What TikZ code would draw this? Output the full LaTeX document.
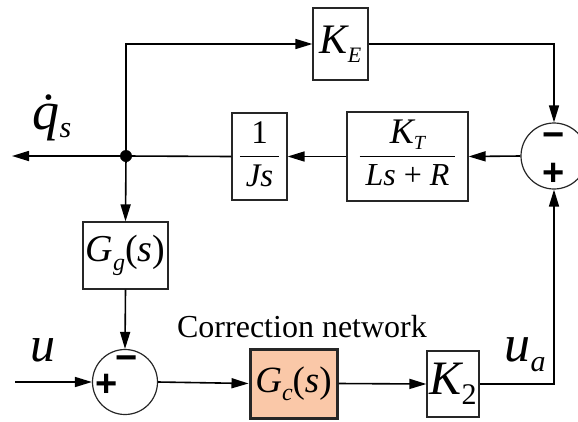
\documentclass[tikz,border=0pt]{standalone}
\usepackage{fontspec}
\setmainfont{Liberation Serif}
\newfontfamily\signfont{Liberation Sans}
\usetikzlibrary{arrows.meta}
\definecolor{corrfill}{RGB}{250,200,168}
% lowered italic subscript: size, drop, text
\newcommand{\sbs}[3]{\raisebox{-#2}{\fontsize{#1}{#1}\selectfont\itshape #3}}

\begin{document}
\begin{tikzpicture}[
  x=1pt, y=-1pt,
  block/.style={rectangle, draw=black!85, line width=1.2pt, inner sep=0pt, align=center},
  sumnode/.style={circle, draw=black!85, line width=1.2pt, minimum size=66pt, inner sep=0pt},
  sign/.style={inner sep=0pt, font=\signfont\bfseries\fontsize{38}{38}\selectfont},
  lbl/.style={inner sep=0pt},
  arr/.style={-{Triangle[length=17pt, width=10pt]}, line width=1.6pt},
  line/.style={line width=1.6pt}
]
\useasboundingbox (0,0) rectangle (578,421);

% forward path
\node[block, minimum width=55pt, minimum height=72pt] (ke) at (340.5,44)
  {\fontsize{42}{42}\selectfont\itshape K\sbs{22}{9pt}{E}};
\node[block, minimum width=55pt, minimum height=87pt] (int) at (259.5,156.5)
  {\fontsize{33}{33}\selectfont\renewcommand{\arraystretch}{1.3}%
   \begin{tabular}{c}1\\\hline\itshape Js\end{tabular}};
\node[block, minimum width=121pt, minimum height=89pt] (motor) at (407.5,156.5)
  {\fontsize{32}{32}\selectfont\renewcommand{\arraystretch}{1.3}%
   \begin{tabular}{c}{\fontsize{36}{36}\selectfont\itshape K}\sbs{20}{6pt}{T}\\\hline\itshape Ls\upshape\ +\ \itshape R\end{tabular}};
\node[sumnode] (sumr) at (554,156) {};
\node[sign] at (554,140) {−};
\node[sign] at (554,174) {+};
\coordinate (junc) at (126,156);
\coordinate (outq) at (12,156);

% feedback and correction
\node[block, minimum width=85pt, minimum height=67pt] (gg) at (125.5,255.5)
  {\fontsize{38}{38}\selectfont{\itshape G}\sbs{24}{9pt}{g}(\textit{s})};
\node[sumnode, minimum size=65pt] (suml) at (125,382) {};
\node[sign] at (107,385) {+};
\node[sign] at (127,363) {−};
\coordinate (uin) at (15,382);
\node[block, fill=corrfill, line width=3pt, minimum width=87pt, minimum height=69pt] (gc) at (293.5,383.5)
  {\fontsize{37}{37}\selectfont{\itshape G}\sbs{24}{8pt}{c}(\textit{s})};
\node[block, minimum width=52pt, minimum height=66pt] (k2) at (453,384)
  {\fontsize{48}{48}\selectfont\itshape K\sbs{30}{10pt}{\upshape 2}};

% labels
\node[lbl] (qs) at (52,118) {\fontsize{54}{54}\selectfont\itshape \.q\sbs{30}{8pt}{s}};
\node[lbl] (ulbl) at (43,350) {\fontsize{50}{50}\selectfont\itshape u};
\node[lbl] (ualbl) at (525,355) {\fontsize{52}{52}\selectfont\itshape u\sbs{30}{10pt}{a}};
\node[lbl] (corr) at (302,327) {\fontsize{32}{32}\selectfont Correction network};

% connectors
\draw[arr] (junc) |- (ke.west);
\draw[arr] (ke.east) -| (sumr.north);
\draw[arr] (sumr.west) -- (motor.east);
\draw[arr] (motor.west) -- (int.east);
\draw[line] (int.west) -- (junc);
\draw[arr] (junc) -- (outq);
\draw[arr] (junc) -- (gg.north);
\draw[arr] (gg.south) -- (suml.north);
\draw[arr] (uin) -- (suml.west);
\draw[arr] (suml.east) -- (gc.west);
\draw[arr] (gc.east) -- (k2.west);
\draw[arr] (k2.east) -| (sumr.south);
\fill (junc) circle (6pt);
\end{tikzpicture}
\end{document}
